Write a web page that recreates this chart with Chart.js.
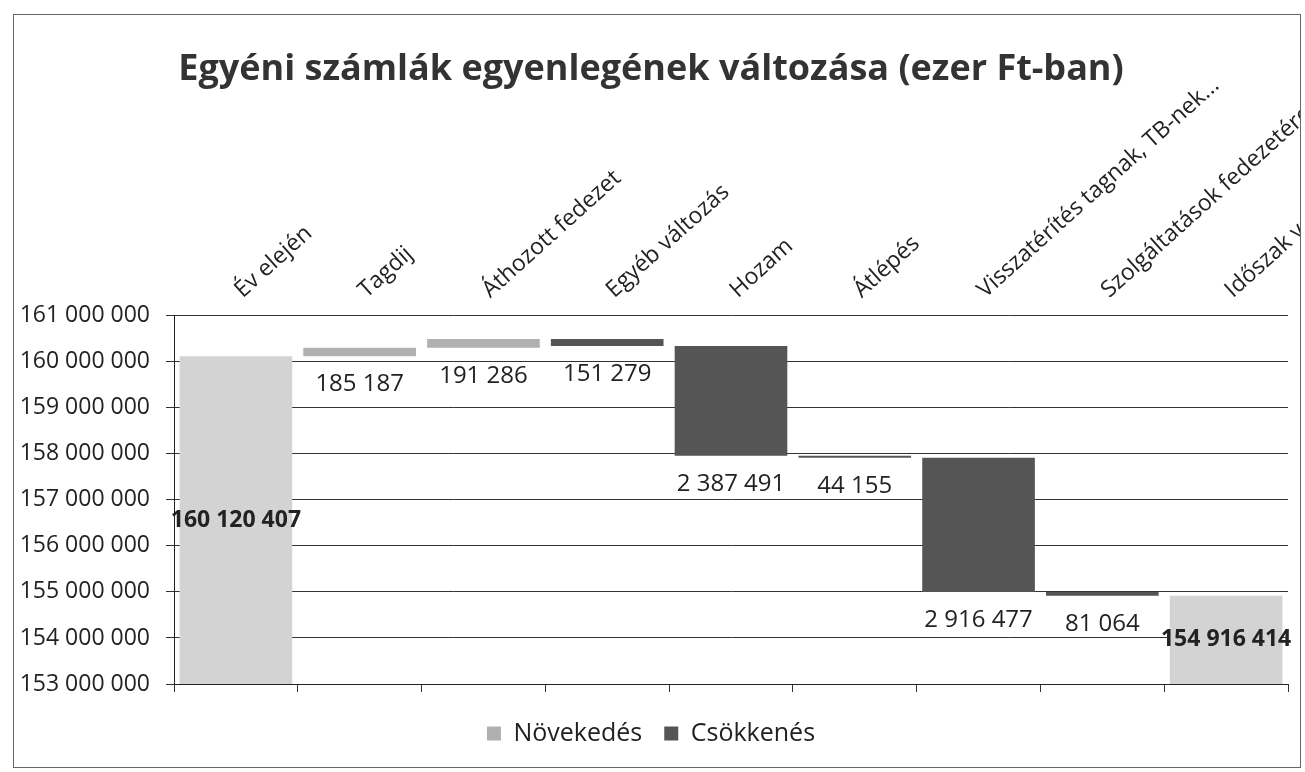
<!DOCTYPE html>
<html><head><meta charset="utf-8">
<script src="https://cdn.jsdelivr.net/npm/chart.js@4.4.1/dist/chart.umd.min.js"></script>
<style>
html,body{margin:0;padding:0;background:#fff;width:1305px;height:772px;overflow:hidden}
#frame{position:absolute;left:13px;top:14px;width:1286px;height:752px;border:1px solid #666;overflow:hidden}
canvas{display:block}
</style></head><body>
<div id="frame"><canvas id="c" width="1286" height="752"></canvas></div>
<script>
const categories = ["Év elején","Tagdij","Áthozott fedezet","Egyéb változás","Hozam","Átlépés","Visszatérítés tagnak, TB-nek...","Szolgáltatások fedezetére","Időszak vége"];
const startValue = 160120407;
const changeValues = [185187, 191286, -151279, -2387491, -44155, -2916477, -81064];
const endValue = 154916414;
const yMin = 153000000, yMax = 161000000, yStep = 1000000;
const seriesNames = ["Növekedés", "Csökkenés"];

const FONT = "'Open Sans', 'Liberation Sans', sans-serif";
function fmt(v){ return String(Math.round(v)).replace(/\B(?=(\d{3})+(?!\d))/g, ' '); }

// build floating ranges from the change values
const totals = categories.map((_, i) => i === 0 ? startValue : (i === categories.length - 1 ? endValue : null));
const inc = categories.map(() => null), dec = categories.map(() => null);
const lows = [];
let run = startValue;
changeValues.forEach((c, k) => {
  const i = k + 1;
  const a = run, b = run + c;
  if (c >= 0) inc[i] = [a, b]; else dec[i] = [b, a];
  lows.push(Math.min(a, b));
  run = b;
});

const labelPlugin = {
  id: 'wfLabels',
  afterDatasetsDraw(chart){
    const ctx = chart.ctx, x = chart.scales.x, y = chart.scales.y;
    ctx.save();
    ctx.fillStyle = '#222';
    ctx.textAlign = 'center';
    ctx.textBaseline = 'middle';
    ctx.font = "24px " + FONT;
    changeValues.forEach((c, k) => {
      const px = x.getPixelForValue(k + 1);
      const py = y.getPixelForValue(lows[k]) + 28;
      ctx.fillText(fmt(Math.abs(c)), px, py);
    });
    ctx.font = "bold 23px " + FONT;
    [[0, startValue], [categories.length - 1, endValue]].forEach(([i, v]) => {
      const px = x.getPixelForValue(i);
      const py = (y.getPixelForValue(v) + y.bottom) / 2;
      ctx.fillText(fmt(v), px, py);
    });
    ctx.restore();
  }
};

const common = {grouped: false, barPercentage: 0.91, categoryPercentage: 1, borderWidth: 0};
new Chart(document.getElementById('c'), {
  type: 'bar',
  data: {
    labels: categories,
    datasets: [
      Object.assign({label: 'Összesen', data: totals, backgroundColor: '#d3d3d3'}, common),
      Object.assign({label: seriesNames[0], data: inc, backgroundColor: '#b0b0b0'}, common),
      Object.assign({label: seriesNames[1], data: dec, backgroundColor: '#555555'}, common)
    ]
  },
  options: {
    responsive: false,
    animation: false,
    devicePixelRatio: 1,
    layout: {padding: {left: 0, right: 12, top: 0, bottom: 11}},
    plugins: {
      title: {display: true, text: 'Egyéni számlák egyenlegének változása (ezer Ft-ban)',
        color: '#333', font: {family: FONT, size: 36, weight: 'bold', lineHeight: 0.05},
        padding: {top: 54, bottom: 0}},
      legend: {position: 'bottom',
        labels: {filter: it => it.datasetIndex !== 0, boxWidth: 14, boxHeight: 14, padding: 22,
          color: '#222', font: {family: FONT, size: 25}}},
      tooltip: {enabled: false}
    },
    scales: {
      x: {position: 'bottom', offset: true,
        grid: {offset: true, drawOnChartArea: false, drawTicks: true, tickLength: 8, color: '#333'},
        border: {color: '#222', width: 1},
        ticks: {display: false},
        afterFit(s){ s.height = 15; }},
      x2: {type: 'category', position: 'top', offset: true, labels: categories,
        grid: {display: false, drawTicks: false}, border: {display: false},
        ticks: {minRotation: 42, maxRotation: 42, autoSkip: false, padding: 12, labelOffset: 21,
          color: '#222', font: {family: FONT, size: 23}},
        afterFit(s){ s.height = 245; s.paddingLeft = 0; s.paddingRight = 0; }},
      y: {min: yMin, max: yMax,
        ticks: {stepSize: yStep, callback: v => fmt(v), color: '#222', padding: 16,
          font: {family: FONT, size: 23}},
        grid: {color: '#333', tickLength: 8, lineWidth: 1},
        border: {color: '#222', width: 1},
        afterFit(s){ s.width = 160; }}
    }
  },
  plugins: [labelPlugin]
});
</script>
</body></html>
